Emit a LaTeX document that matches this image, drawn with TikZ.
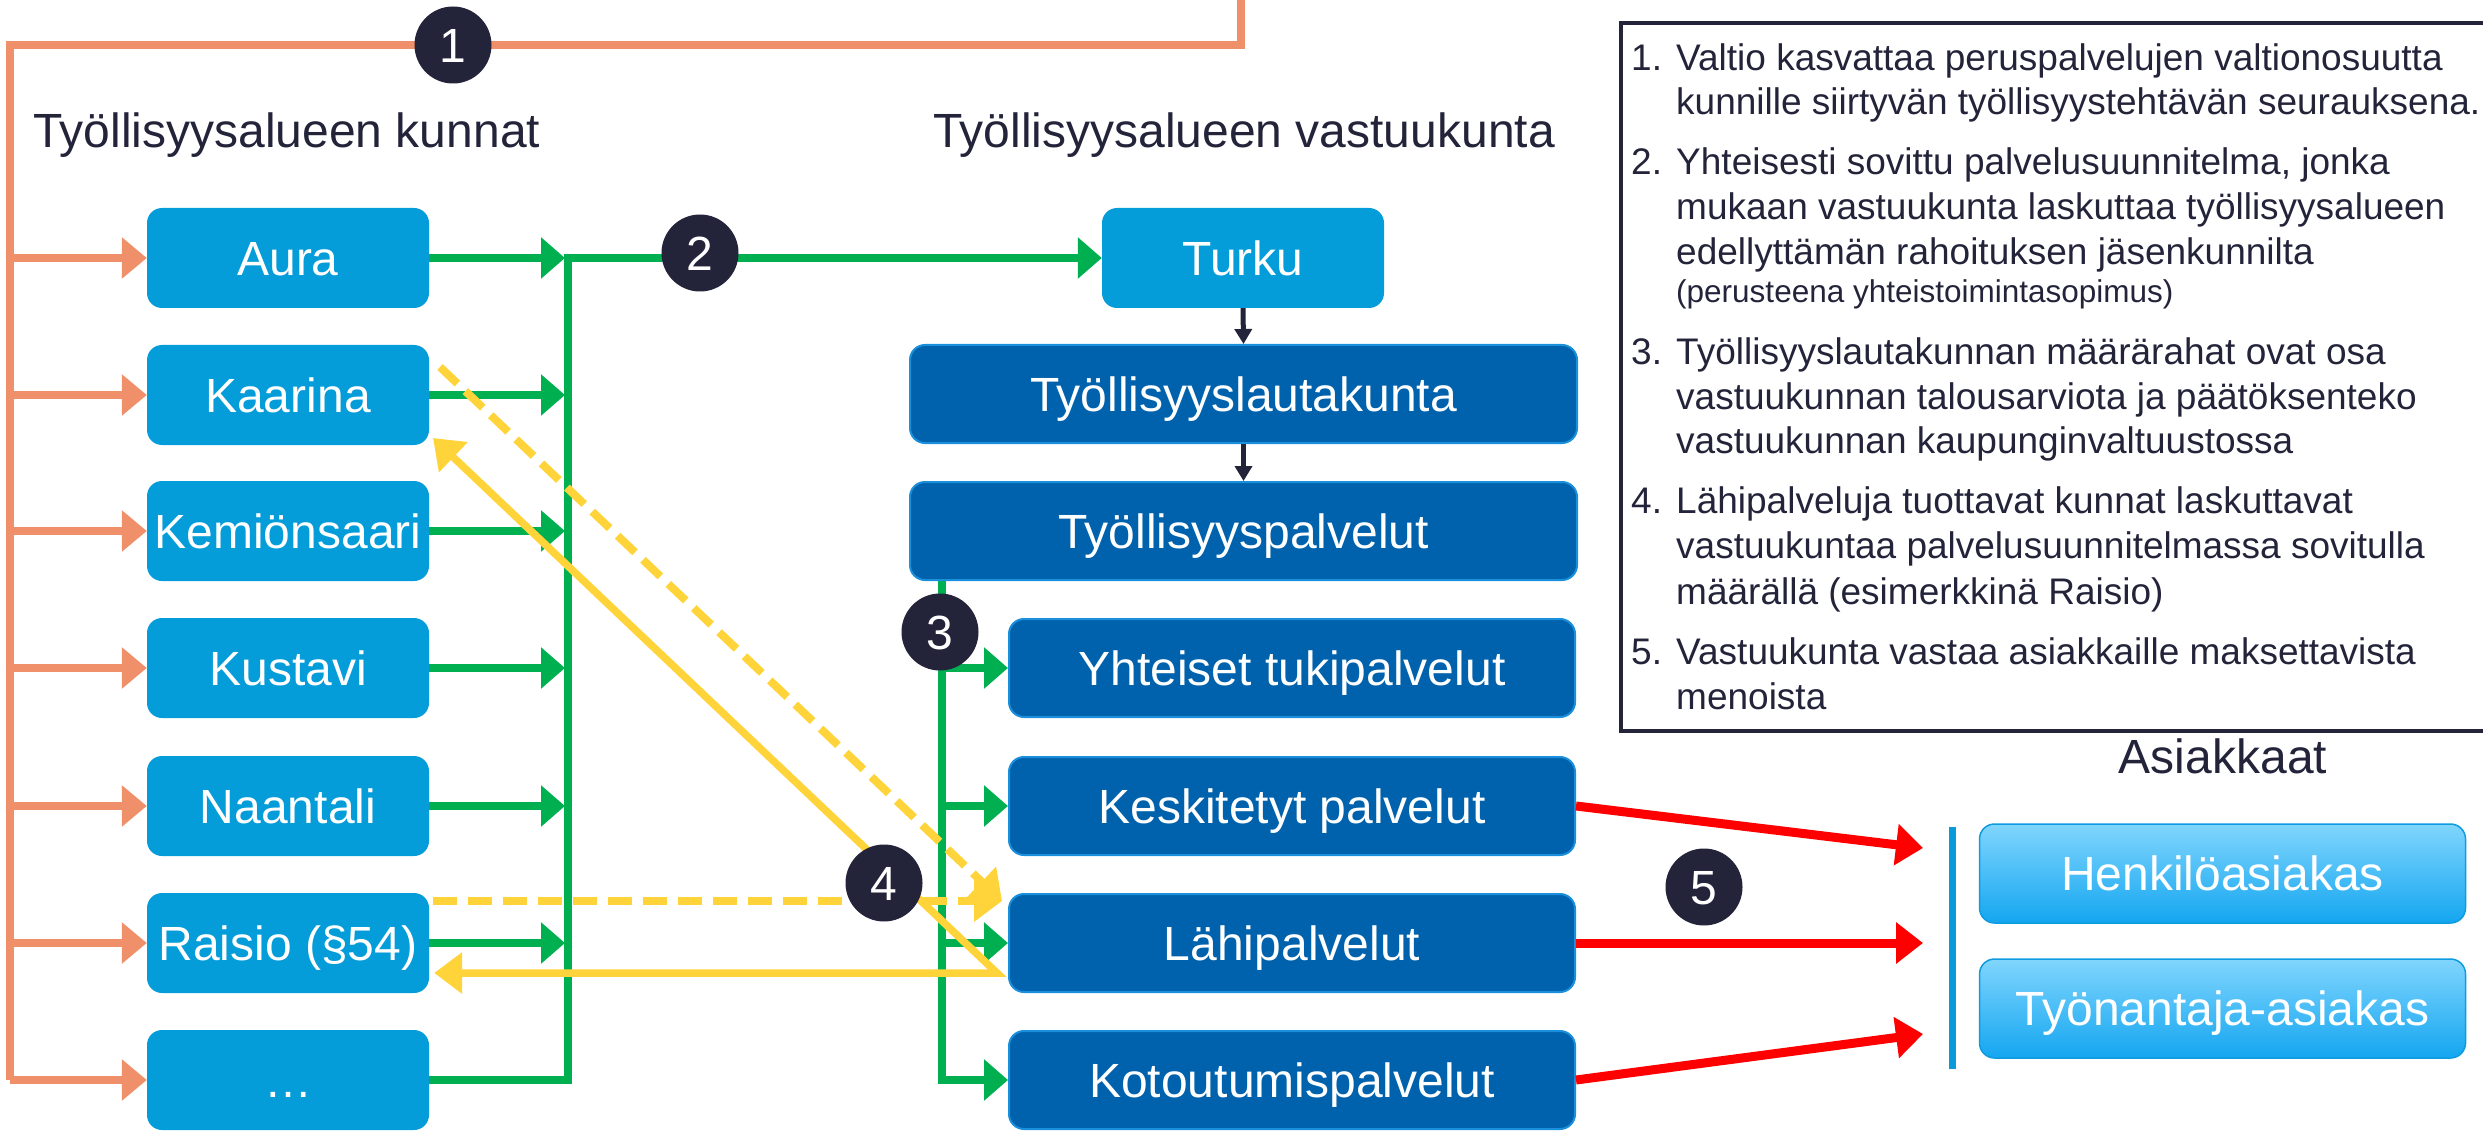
\documentclass[tikz,border=0pt]{standalone}
\usepackage{fontspec}
\setmainfont{Liberation Sans}
\usetikzlibrary{arrows.meta}
\definecolor{lblue}{HTML}{049CD9}
\definecolor{dblue}{HTML}{0062AC}
\definecolor{dborder}{HTML}{1A8FDC}
\definecolor{orng}{HTML}{F0906B}
\definecolor{grn}{HTML}{00B050}
\definecolor{ylw}{HTML}{FFD43A}
\definecolor{dark}{HTML}{23233A}
\definecolor{rd}{HTML}{FF0000}
\definecolor{bln}{HTML}{0A9AD9}
\definecolor{cust1}{HTML}{80D5FD}
\definecolor{cust2}{HTML}{14A6F0}
\definecolor{custb}{HTML}{0E9BE0}
\newcommand\bigf{\fontsize{48}{56}\selectfont}
\newcommand\legf{\fontsize{37}{44}\selectfont}
\newcommand\legsf{\fontsize{31.5}{38}\selectfont}
\begin{document}
\begin{tikzpicture}[x=1pt,y=-1pt,
  every node/.style={inner sep=0pt},
  lbox/.style={fill=lblue, rounded corners=15pt, minimum width=282pt, minimum height=100pt, text=white, font=\bigf, text height=34.4pt, text depth=0pt},
  dbox/.style={fill=dblue, draw=dborder, line width=2pt, rounded corners=15pt, minimum height=98pt, text=white, font=\bigf, text height=34.4pt, text depth=0pt},
  cbox/.style={top color=cust1, bottom color=cust2, draw=custb, line width=1.5pt, rounded corners=15pt, minimum width=486pt, minimum height=99pt, text=white, font=\bigf, text height=34.4pt, text depth=0pt},
  numc/.style={circle, fill=dark, minimum size=77pt, text=white, font=\bigf, text height=34.4pt, text depth=0pt},
  title/.style={anchor=base west, font=\bigf, text=dark},
  legn/.style={anchor=base west, font=\legf, text=dark},
  legs/.style={anchor=base west, font=\legsf, text=dark},
  oline/.style={orng, line width=8pt},
  oarr/.style={orng, line width=8pt, -{Triangle[length=25pt,width=40pt]}},
  garr/.style={grn, line width=7.3pt, -{Triangle[length=24pt,width=40pt]}},
  karr/.style={dark, line width=5pt, -{Triangle[length=15pt,width=17pt]}},
  rarr/.style={rd, line width=9pt, -{Triangle[length=27pt,width=40pt]}},
  ydash/.style={ylw, line width=8pt, dash pattern=on 24pt off 11pt, -{Triangle[length=28pt,width=40pt]}},
  yboth/.style={ylw, line width=7.5pt, {Triangle[length=28pt,width=40pt]}-{Triangle[length=28pt,width=40pt]}},
  bline/.style={bln, line width=7pt}
]
\useasboundingbox (0,0) rectangle (2483,1131);

% titles
\node[title] (t1) at (33,148) {Työllisyysalueen kunnat};
\node[title] (t2) at (933,148) {Työllisyysalueen vastuukunta};
\node[font=\bigf, text=dark, anchor=base] (t3) at (2223,773) {Asiakkaat};

% left boxes
\node[lbox] (aura) at (288,258) {Aura};
\node[lbox] (kaarina) at (288,395) {Kaarina};
\node[lbox] (kemio) at (288,531) {Kemiönsaari};
\node[lbox] (kustavi) at (288,668) {Kustavi};
\node[lbox] (naantali) at (288,806) {Naantali};
\node[lbox] (raisio) at (288,943) {Raisio (§54)};
\node[lbox] (dots) at (288,1080) {…};

% right column
\node[lbox] (turku) at (1243,258) {Turku};
\node[dbox, minimum width=667pt] (tlk) at (1243.5,394) {Työllisyyslautakunta};
\node[dbox, minimum width=667pt] (tp) at (1243.5,531) {Työllisyyspalvelut};
\node[dbox, minimum width=566pt] (yht) at (1292,668) {Yhteiset tukipalvelut};
\node[dbox, minimum width=566pt] (kesk) at (1292,806) {Keskitetyt palvelut};
\node[dbox, minimum width=566pt] (lahi) at (1292,943) {Lähipalvelut};
\node[dbox, minimum width=566pt] (koto) at (1292,1080) {Kotoutumispalvelut};

% customers
\node[cbox] (henk) at (2222.5,873.5) {Henkilöasiakas};
\node[cbox] (tyon) at (2222.5,1008.5) {Työnantaja-asiakas};

% orange
\coordinate (otop) at (1241,-5);
\coordinate (ocorner) at (10,45);
\coordinate (obot) at (10,1080);
\draw[oline] (otop) -- (otop |- ocorner) -- (ocorner) -- (obot);
\foreach \n in {aura,kaarina,kemio,kustavi,naantali,raisio,dots}
  \draw[oarr] (ocorner |- \n.west) -- (\n.west);

% green left
\coordinate (gtop) at (568,258);
\coordinate (gbot) at (568,1080);
\draw[garr] (dots.east) -- (gbot) -- (gtop) -- (turku.west);
\foreach \n in {aura,kaarina,kemio,kustavi,naantali,raisio}
  \draw[garr] (\n.east) -- ([xshift=-3pt]gtop |- \n.east);

% green 3
\coordinate (g3) at (942,1080);
\draw[garr] (g3 |- tp.south) -- (g3) -- (koto.west);
\foreach \n in {yht,kesk,lahi}
  \draw[garr] (g3 |- \n.west) -- (\n.west);

% black
\draw[karr] (turku.south) -- (tlk.north);
\draw[karr] (tlk.south) -- (tp.north);

% red
\coordinate (r1) at (1923,848);
\coordinate (r2) at (1923,943);
\coordinate (r3) at (1923,1034);
\draw[rarr] (kesk.east) -- (r1);
\draw[rarr] (lahi.east) -- (r2);
\draw[rarr] (koto.east) -- (r3);

% blue bar
\coordinate (bl1) at (1952,827);
\coordinate (bl2) at (1952,1069);
\draw[bline] (bl1) -- (bl2);

% yellow
\coordinate (yd1) at (440,367);
\coordinate (ytip) at (1002,901);
\draw[ydash] (yd1) -- (ytip);
\draw[ydash] ([xshift=4pt]raisio.east |- ytip) -- (ytip);
\coordinate (yv) at (997,973);
\coordinate (ykaar) at (433,438);
\draw[yboth] (ykaar) -- (yv) -- ([xshift=5pt]raisio.east |- yv);

% numbered circles
\node[numc] (c1) at (453,45) {1};
\node[numc] (c2) at (700,253) {2};
\node[numc] (c3) at (940,632) {3};
\node[numc] (c4) at (884,883) {4};
\node[numc] (c5) at (1704,887) {5};

% legend
\coordinate (lg1) at (1621,23);
\coordinate (lg2) at (2495,731);
\draw[dark, line width=4.5pt] (lg1) rectangle (lg2);
\node[legn] (n1) at (1631,71) {1.};
\node[legn] (a1) at (1676,71) {Valtio kasvattaa peruspalvelujen valtionosuutta};
\node[legn] (a2) at (1676,115) {kunnille siirtyvän työllisyystehtävän seurauksena.};
\node[legn] (n2) at (1631,175) {2.};
\node[legn] (b1) at (1676,175) {Yhteisesti sovittu palvelusuunnitelma, jonka};
\node[legn] (b2) at (1676,220) {mukaan vastuukunta laskuttaa työllisyysalueen};
\node[legn] (b3) at (1676,265) {edellyttämän rahoituksen jäsenkunnilta};
\node[legs] (b4) at (1676,303) {(perusteena yhteistoimintasopimus)};
\node[legn] (n3) at (1631,364) {3.};
\node[legn] (d1) at (1676,364) {Työllisyyslautakunnan määrärahat ovat osa};
\node[legn] (d2) at (1676,409) {vastuukunnan talousarviota ja päätöksenteko};
\node[legn] (d3) at (1676,453) {vastuukunnan kaupunginvaltuustossa};
\node[legn] (n4) at (1631,513) {4.};
\node[legn] (e1) at (1676,513) {Lähipalveluja tuottavat kunnat laskuttavat};
\node[legn] (e2) at (1676,558) {vastuukuntaa palvelusuunnitelmassa sovitulla};
\node[legn] (e3) at (1676,604) {määrällä (esimerkkinä Raisio)};
\node[legn] (n5) at (1631,664) {5.};
\node[legn] (f1) at (1676,664) {Vastuukunta vastaa asiakkaille maksettavista};
\node[legn] (f2) at (1676,709) {menoista};
\end{tikzpicture}
\end{document}
